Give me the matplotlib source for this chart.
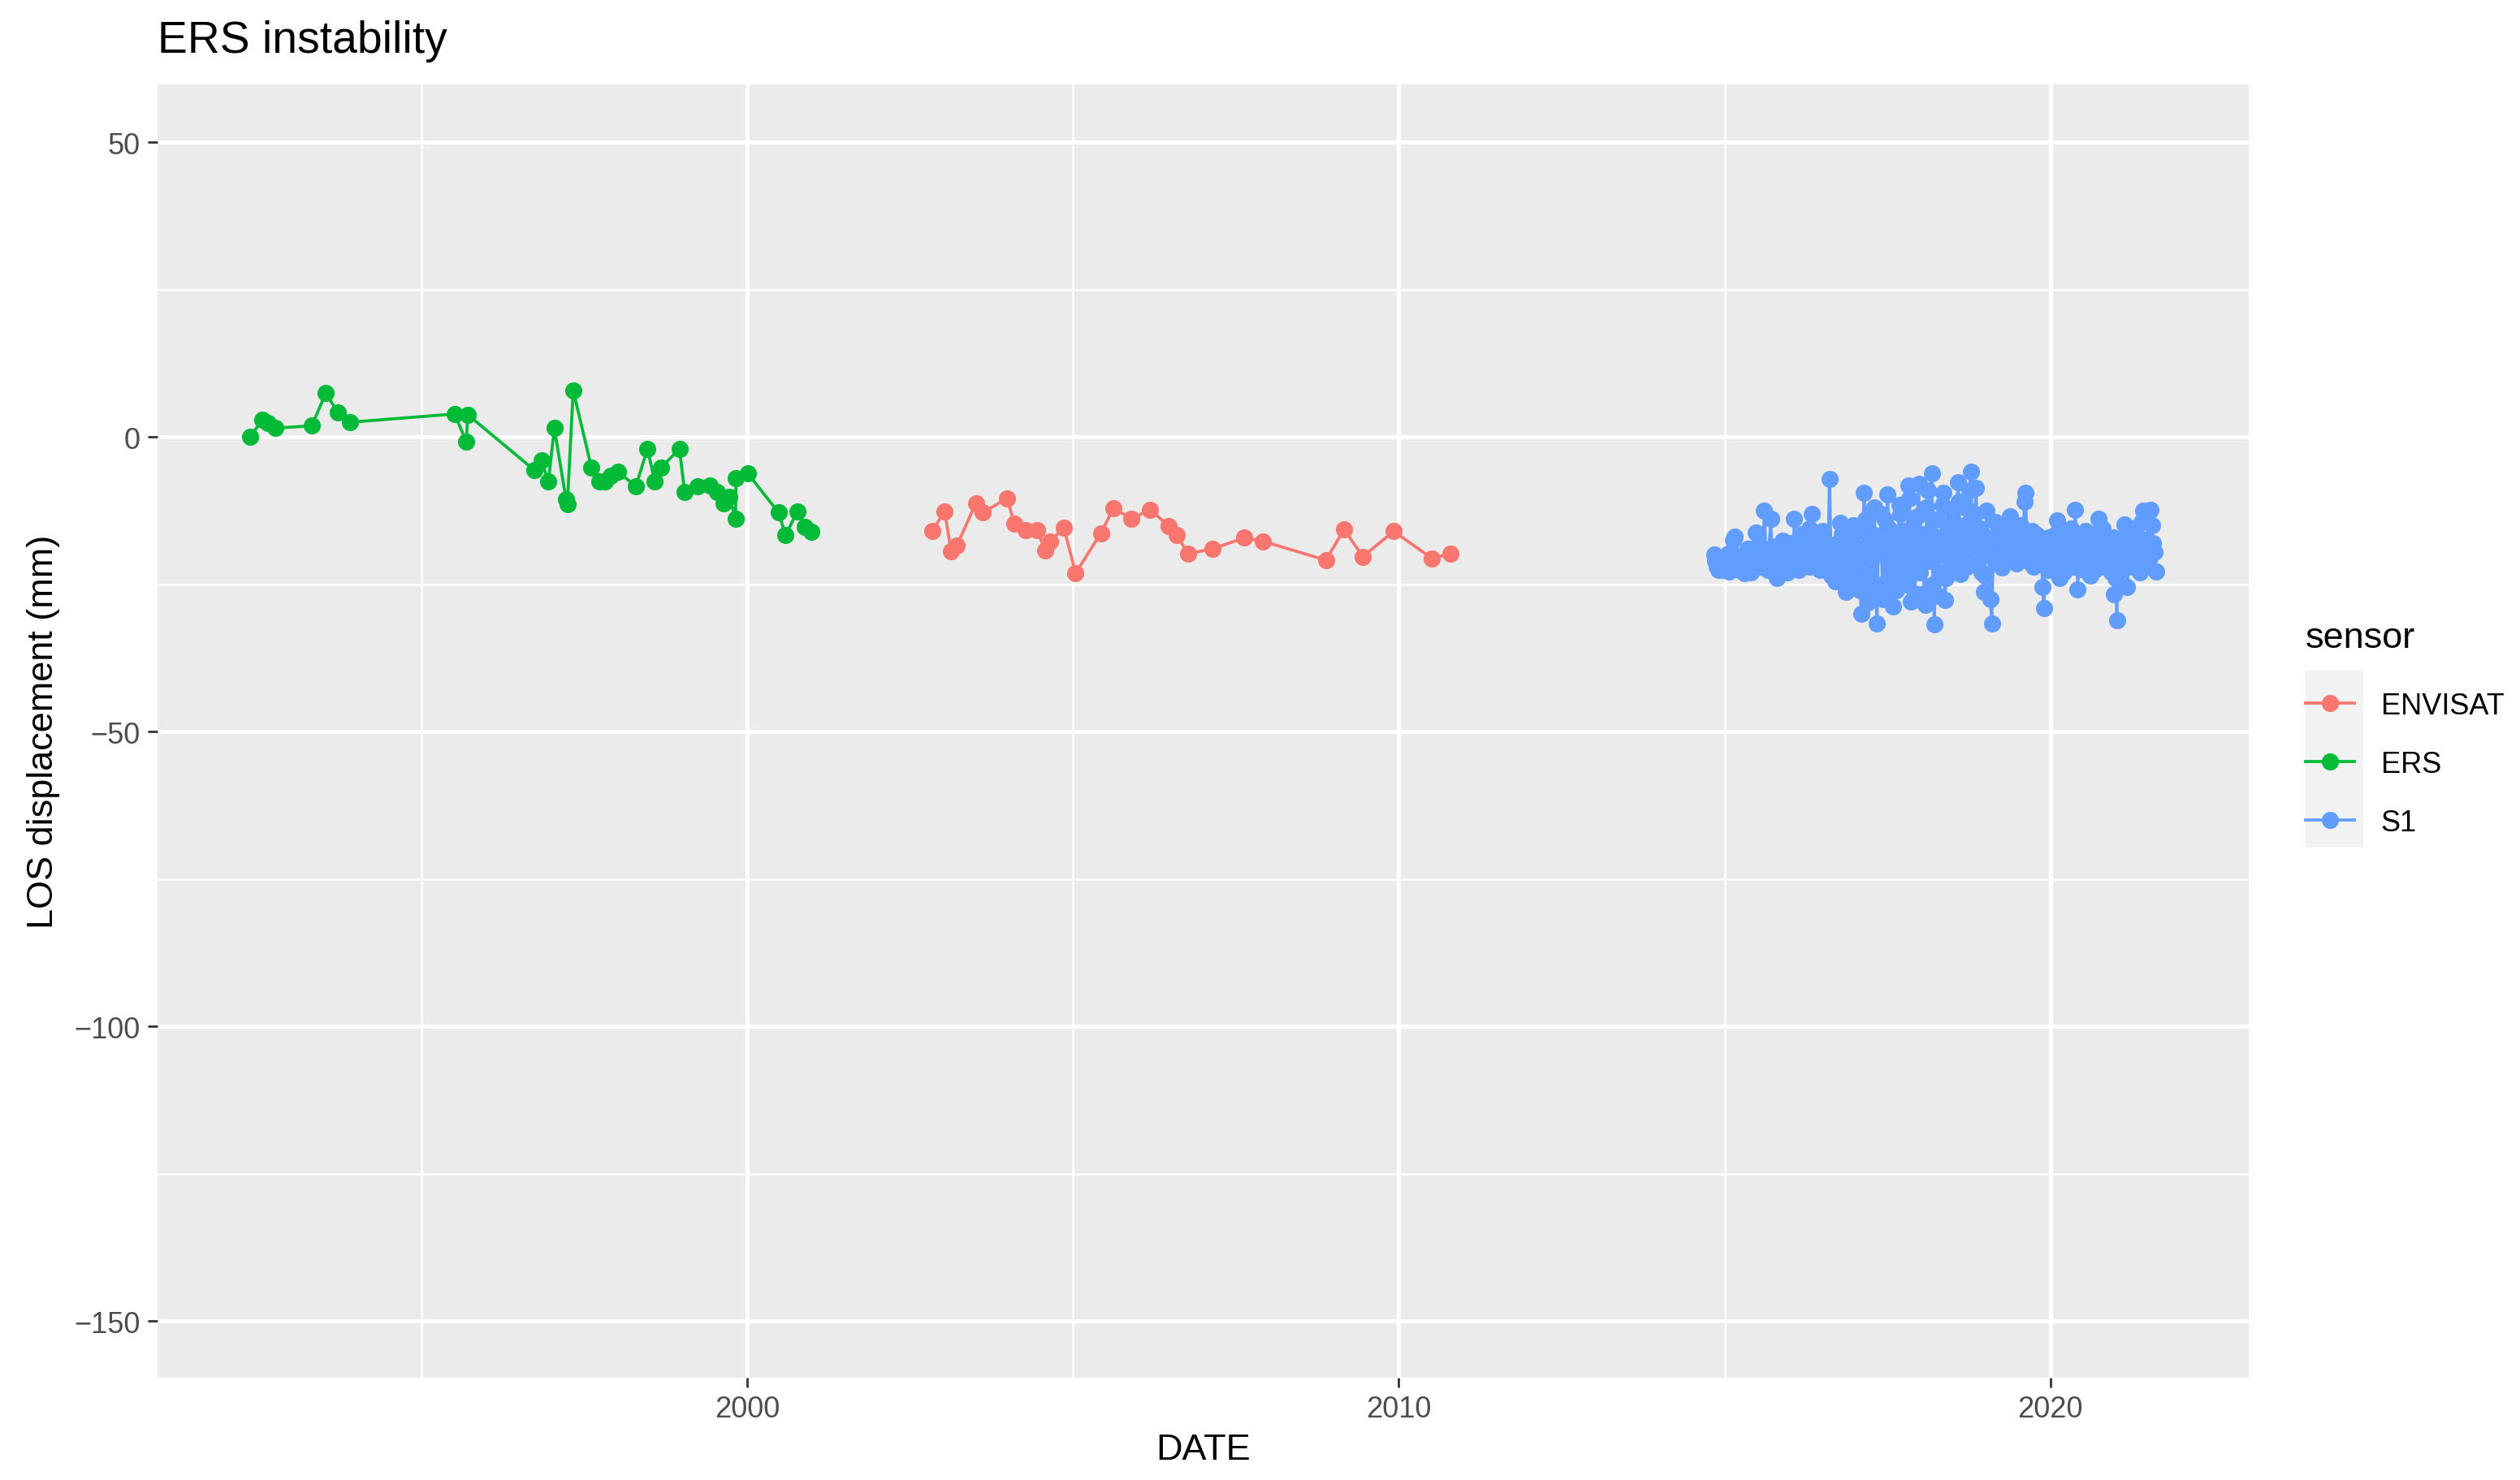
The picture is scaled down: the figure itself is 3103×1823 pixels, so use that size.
import matplotlib
matplotlib.use('Agg')
import matplotlib.pyplot as plt
from matplotlib.lines import Line2D
from matplotlib.patches import Rectangle

plt.rcParams['font.family'] = ['Liberation Sans', 'DejaVu Sans']

# ERS series (decimal year, LOS displacement in mm)
ers_date = [1992.37, 1992.56, 1992.65, 1992.76, 1993.32, 1993.53, 1993.72, 1993.91,
            1995.51, 1995.69, 1995.71, 1996.73, 1996.84, 1996.95, 1997.04, 1997.22,
            1997.24, 1997.33, 1997.61, 1997.73, 1997.82, 1997.91, 1998.02, 1998.29,
            1998.47, 1998.58, 1998.68, 1998.96, 1999.04, 1999.24, 1999.42, 1999.54,
            1999.64, 1999.73, 1999.82, 1999.83, 2000.01, 2000.48, 2000.59, 2000.77,
            2000.89, 2000.99]
ers_los = [0.0, 2.9, 2.4, 1.5, 1.9, 7.4, 4.2, 2.5,
           3.9, -0.8, 3.8, -5.6, -4.0, -7.5, 1.5, -10.6,
           -11.4, 7.9, -5.2, -7.5, -7.5, -6.6, -5.9, -8.4,
           -2.0, -7.5, -5.2, -2.0, -9.3, -8.4, -8.2, -9.3,
           -11.2, -10.2, -13.9, -7.0, -6.2, -12.8, -16.7, -12.6,
           -15.3, -16.1]

# ENVISAT series
envisat_date = [2002.84, 2003.03, 2003.13, 2003.22, 2003.51, 2003.62, 2003.99, 2004.10,
                2004.28, 2004.45, 2004.57, 2004.65, 2004.86, 2005.04, 2005.43, 2005.62,
                2005.90, 2006.18, 2006.47, 2006.59, 2006.77, 2007.14, 2007.63, 2007.92,
                2008.88, 2009.16, 2009.45, 2009.92, 2010.51, 2010.79]
envisat_los = [-16.0, -12.6, -19.4, -18.4, -11.2, -12.8, -10.4, -14.7,
               -15.8, -15.8, -19.2, -17.7, -15.4, -23.1, -16.3, -12.1,
               -13.9, -12.3, -15.1, -16.7, -19.8, -19.0, -17.1, -17.7,
               -20.9, -15.7, -20.3, -16.0, -20.6, -19.8]

# S1 series
s1_date = [2014.84, 2014.88, 2014.93, 2014.98, 2015.02, 2015.07, 2015.11, 2015.16,
           2015.20, 2015.25, 2015.30, 2015.34, 2015.39, 2015.43, 2015.48, 2015.52,
           2015.57, 2015.61, 2015.66, 2015.71, 2015.75, 2015.80, 2015.84, 2015.89,
           2015.93, 2015.98, 2016.02, 2016.07, 2016.12, 2016.16, 2016.21, 2016.25,
           2016.30, 2016.34, 2016.39, 2016.43, 2016.48, 2016.53, 2016.57, 2016.61,
           2016.66,
           2016.70, 2016.74, 2016.78, 2016.82, 2016.86, 2016.90, 2016.94, 2016.98,
           2017.02, 2017.06, 2017.10, 2017.14, 2017.18, 2017.22, 2017.26, 2017.30,
           2017.34, 2017.38, 2017.42, 2017.46, 2017.50, 2017.54, 2017.58, 2017.62,
           2017.66, 2017.70, 2017.74, 2017.78, 2017.82, 2017.86, 2017.90, 2017.94,
           2017.98, 2018.02, 2018.06, 2018.10, 2018.14, 2018.18, 2018.22, 2018.26,
           2018.30, 2018.34, 2018.38, 2018.42, 2018.46, 2018.50, 2018.54, 2018.58,
           2018.62, 2018.66, 2018.70, 2018.74, 2018.78, 2018.82, 2018.86, 2018.90,
           2018.94, 2018.98, 2019.02, 2019.06, 2019.10, 2019.14, 2019.18, 2019.22,
           2019.26, 2019.30, 2019.34, 2019.38, 2019.42, 2019.46, 2019.50, 2019.54,
           2019.58, 2019.62, 2019.66, 2019.70, 2019.74, 2019.78, 2019.82, 2019.86,
           2019.90, 2019.94, 2019.98, 2020.02, 2020.06, 2020.10, 2020.14, 2020.18,
           2020.22, 2020.26, 2020.30, 2020.34, 2020.38, 2020.42, 2020.46, 2020.50,
           2020.54, 2020.58, 2020.62, 2020.66, 2020.70, 2020.74, 2020.78, 2020.82,
           2020.86, 2020.90, 2020.94, 2020.98, 2021.02, 2021.06, 2021.10, 2021.14,
           2021.18, 2021.22, 2021.26, 2021.30, 2021.34, 2021.38, 2021.42, 2021.46,
           2021.50, 2021.54, 2021.58, 2021.62]
s1_los = [-20.0, -22.0, -21.5, -22.5, -21.0, -22.8, -19.5, -16.9,
          -21.5, -22.0, -23.1, -20.5, -21.8, -19.0, -16.2, -21.0,
          -19.5, -12.5, -22.5, -13.9, -20.0, -24.0, -21.0, -17.6,
          -22.5, -19.5, -21.5, -13.9, -20.5, -22.0, -18.5, -20.8,
          -15.5, -13.1, -19.0, -21.5, -21.9, -18.0, -20.5, -7.1,
          -22.0,
          -24.5, -18.0, -14.6, -22.0, -26.3, -17.5, -21.0, -15.0,
          -24.0, -19.0, -30.0, -9.5, -23.5, -17.0, -27.0, -12.0,
          -31.6, -20.0, -25.0, -14.0, -9.8, -22.5, -28.8, -16.5,
          -21.0, -13.0, -24.0, -18.0, -8.2, -27.9, -15.0, -22.0,
          -7.9, -20.0, -26.5, -12.0, -19.5, -6.1, -31.8, -17.0,
          -23.0, -11.6, -27.7, -16.0, -21.0, -14.5, -20.5, -7.7,
          -23.3, -17.5, -12.0, -19.0, -5.9, -21.5, -8.6, -18.0,
          -23.0, -26.3, -12.5, -20.0, -31.6, -17.0, -21.5, -15.5,
          -22.2, -18.5, -20.5, -13.4, -21.0, -17.0, -19.5, -15.0,
          -20.5, -9.5, -21.0, -17.5, -22.0, -16.5, -20.0, -18.0,
          -29.1, -21.0, -17.0, -22.5, -19.0, -14.1, -24.0, -18.5,
          -21.5, -16.5, -20.5, -18.0, -12.3, -25.8, -19.0, -21.5,
          -16.0, -20.0, -23.5, -18.0, -21.0, -13.9, -22.0, -17.5,
          -20.5, -19.0, -23.0, -26.7, -31.1, -19.5, -22.5, -14.9,
          -25.4, -18.0, -21.0, -16.5, -20.0, -23.0, -12.5, -19.0,
          -21.5, -12.3, -18.0, -22.9]

# S1 acquisitions in between (second satellite / denser sampling)
s1_date_extra = [2014.86, 2014.91, 2014.95, 2015.00, 2015.05, 2015.09, 2015.13, 2015.18,
                 2015.23, 2015.27, 2015.32, 2015.36, 2015.41, 2015.46, 2015.50, 2015.55,
                 2015.59, 2015.64, 2015.68, 2015.73, 2015.78, 2015.82, 2015.87, 2015.91,
                 2015.96, 2016.00, 2016.05, 2016.09, 2016.14, 2016.18, 2016.23, 2016.28,
                 2016.32, 2016.37, 2016.41, 2016.46, 2016.50, 2016.55, 2016.59, 2016.64,
                 2016.68,
                 2016.72, 2016.76, 2016.80, 2016.84, 2016.88, 2016.92, 2016.96, 2017.00,
                 2017.04, 2017.08, 2017.12, 2017.16, 2017.20, 2017.24, 2017.28, 2017.32,
                 2017.36, 2017.40, 2017.44, 2017.48, 2017.52, 2017.56, 2017.60, 2017.64,
                 2017.68, 2017.72, 2017.76, 2017.80, 2017.84, 2017.88, 2017.92, 2017.96,
                 2018.00, 2018.04, 2018.08, 2018.12, 2018.16, 2018.20, 2018.24, 2018.28,
                 2018.32, 2018.36, 2018.40, 2018.44, 2018.48, 2018.52, 2018.56, 2018.60,
                 2018.64, 2018.68, 2018.72, 2018.76, 2018.80, 2018.84, 2018.88, 2018.92,
                 2018.96, 2019.00, 2019.04, 2019.08, 2019.12, 2019.16, 2019.20, 2019.24,
                 2019.28, 2019.32, 2019.36, 2019.40, 2019.44, 2019.48, 2019.52, 2019.56,
                 2019.60, 2019.64, 2019.68, 2019.72, 2019.76, 2019.80, 2019.84, 2019.88,
                 2019.92, 2019.96, 2020.00, 2020.04, 2020.08, 2020.12, 2020.16, 2020.20,
                 2020.24, 2020.28, 2020.32, 2020.36, 2020.40, 2020.44, 2020.48, 2020.52,
                 2020.56, 2020.60, 2020.64, 2020.68, 2020.72, 2020.76, 2020.80, 2020.84,
                 2020.88, 2020.92, 2020.96, 2021.00, 2021.04, 2021.08, 2021.12, 2021.16,
                 2021.20, 2021.24, 2021.28, 2021.32, 2021.36, 2021.40, 2021.44, 2021.48,
                 2021.52, 2021.56, 2021.60]
s1_los_extra = [-21.0, -22.5, -20.5, -21.8, -19.8, -22.0, -17.5, -20.5,
                -22.5, -21.0, -22.0, -19.0, -23.0, -20.5, -18.5, -22.0,
                -20.0, -21.5, -19.0, -22.0, -18.5, -21.5, -22.5, -20.0,
                -23.0, -18.0, -21.0, -19.5, -22.5, -16.5, -21.5, -19.0,
                -22.0, -17.5, -20.5, -22.5, -16.0, -21.5, -19.5, -23.5,
                -18.5,
                -20.5, -23.0, -16.5, -21.5, -19.0, -24.5, -17.0, -22.0,
                -15.5, -26.0, -19.5, -14.0, -28.0, -21.0, -16.5, -25.5,
                -18.0, -13.0, -27.5, -20.0, -15.5, -24.5, -19.0, -26.0,
                -11.5, -22.5, -16.0, -25.0, -10.5, -20.5, -26.5, -13.5,
                -23.0, -16.5, -28.5, -9.0, -21.0, -25.0, -14.0, -27.0,
                -19.5, -9.5, -24.0, -18.5, -12.5, -22.5, -17.0, -11.0,
                -20.0, -15.0, -22.0, -9.0, -17.5, -13.0, -21.5, -15.5,
                -19.0, -23.5, -17.0, -27.5, -20.5, -14.5, -19.0, -16.0,
                -21.0, -15.0, -18.0, -19.5, -15.5, -21.5, -17.5, -19.5,
                -11.0, -18.5, -20.5, -16.0, -19.5, -21.5, -17.0, -25.5,
                -19.5, -22.5, -18.5, -20.5, -16.5, -21.0, -19.0, -23.0,
                -17.5, -21.0, -15.5, -22.0, -18.0, -20.5, -17.0, -22.5,
                -18.5, -21.0, -16.5, -22.5, -18.0, -20.0, -15.5, -21.5,
                -18.5, -22.0, -17.0, -24.0, -20.0, -17.5, -21.5, -18.5,
                -22.0, -15.5, -20.5, -18.0, -21.5, -14.5, -20.0, -17.5,
                -20.5, -15.0, -19.5]

s1_all = sorted(zip(s1_date + s1_date_extra, s1_los + s1_los_extra))
s1_d = [p[0] for p in s1_all]
s1_v = [p[1] for p in s1_all]

sensors = ['ENVISAT', 'ERS', 'S1']
dates = [envisat_date, ers_date, s1_d]
values = [envisat_los, ers_los, s1_v]
colors = ['#F8766D', '#00BA38', '#619CFF']

fig = plt.figure(figsize=(15.515, 9.12), dpi=200)
ax = fig.add_axes([0.0625, 0.0691, 0.83, 0.8733])
ax.set_facecolor('#EBEBEB')
for sp in ax.spines.values():
    sp.set_visible(False)

ax.set_xlim(1990.95, 2023.05)
ax.set_ylim(-159.6, 59.8)
ax.set_xticks([2000, 2010, 2020])
ax.set_xticks([1995, 2005, 2015], minor=True)
ax.set_yticks([-150, -100, -50, 0, 50])
ax.set_yticks([-125, -75, -25, 25], minor=True)
ax.grid(which='major', color='white', lw=1.8)
ax.grid(which='minor', color='white', lw=0.9)
ax.set_axisbelow(True)
ax.tick_params(which='major', length=4.2, width=1.0, color='#333333',
               labelsize=13.0, labelcolor='#4D4D4D', pad=3.5)
ax.tick_params(which='minor', length=0)

# lines first, then points on top (like geom_line + geom_point)
for d, v, c in zip(dates, values, colors):
    ax.plot(d, v, color=c, lw=1.35, zorder=2)
for d, v, c in zip(dates, values, colors):
    ax.plot(d, v, 'o', color=c, ms=7.6, mew=0, zorder=3)

fig.text(0.0625, 1 - 51 / 1824, 'ERS instability', fontsize=19.9, ha='left', va='center')
fig.text(0.4775, 1 - 1787 / 1824, 'DATE', fontsize=16.2, ha='center', va='center')
fig.text(0.0171, 0.5058, 'LOS displacement (mm)', fontsize=16.2, rotation=90,
         ha='center', va='center')

# legend
fig.text(2839 / 3103, 1 - 798 / 1824, 'sensor', fontsize=16.2, ha='left', va='baseline')
handles = [Line2D([], [], color=c, lw=1.35, marker='o', ms=7.6, mew=0) for c in colors]
leg = fig.legend(handles, sensors, loc='upper left',
                 bbox_to_anchor=(0.915, 0.5325), frameon=False, fontsize=13.0,
                 handlelength=1.66, handletextpad=0.9,
                 labelspacing=1.03, borderpad=0, borderaxespad=0)
fig.patches.append(Rectangle((0.9149, 0.4271), 0.0229, 0.1195, transform=fig.transFigure,
                             facecolor='#F2F2F2', edgecolor='none', zorder=0))

fig.savefig('out.png', dpi=200)
